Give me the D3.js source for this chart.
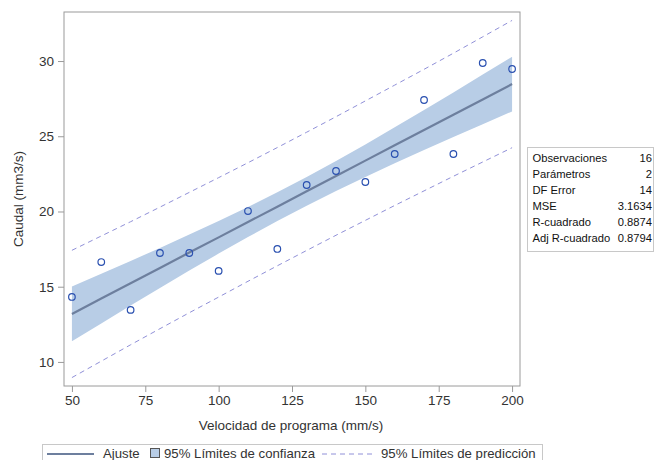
<!DOCTYPE html>
<html><head><meta charset="utf-8">
<script src="https://cdn.jsdelivr.net/npm/d3@7"></script>
<style>body{margin:0;background:#fff;} svg{display:block;font-family:"Liberation Sans",Arial,sans-serif;}</style>
</head><body>
<svg id="c" width="654" height="460"></svg>
<script>
const xVals = [50,60,70,80,90,100,110,120,130,140,150,160,170,180,190,200];
const yObs = [14.32,16.64,13.46,17.24,17.24,16.05,20.03,17.51,21.76,22.69,21.96,23.82,27.41,23.82,29.87,29.47];
const fitVals = [13.19,14.21,15.23,16.25,17.27,18.28,19.30,20.32,21.34,22.36,23.38,24.40,25.41,26.43,27.45,28.47];
const lclm = [11.37,12.56,13.75,14.92,16.07,17.20,18.30,19.36,20.38,21.36,22.30,23.20,24.08,24.95,25.80,26.65];
const uclm = [15.01,15.86,16.71,17.58,18.47,19.36,20.30,21.28,22.30,23.36,24.46,25.60,26.74,27.91,29.10,30.29];
const lcl = [8.96,10.05,11.14,12.21,13.27,14.31,15.36,16.39,17.41,18.42,19.41,20.40,21.37,22.34,23.29,24.24];
const ucl = [17.42,18.37,19.32,20.29,21.27,22.25,23.24,24.25,25.27,26.30,27.35,28.40,29.45,30.52,31.61,32.70];
const xTicks = [50,75,100,125,150,175,200];
const yTicks = [10,15,20,25,30];
const statLabels = ["Observaciones","Parámetros","DF Error","MSE","R-cuadrado","Adj R-cuadrado"];
const statValues = ["16","2","14","3.1634","0.8874","0.8794"];
const legendLabels = ["Ajuste","95% Límites de confianza","95% Límites de predicción"];

const svg = d3.select("#c");
const L=64,R=520,T=12,B=386;
const x = d3.scaleLinear().domain([47.3,202.7]).range([L,R]);
const y = d3.scaleLinear().domain([8.4,33.26]).range([B,T]);
const txt="#333", axisCol="#9a9a9a", fs=13.5, lfs=13.2;

const data = xVals.map((v,i)=>({x:v,y:yObs[i],f:fitVals[i],lm:lclm[i],um:uclm[i],l:lcl[i],u:ucl[i]}));

svg.append("path").datum(data)
  .attr("d", d3.area().x(d=>x(d.x)).y0(d=>y(d.lm)).y1(d=>y(d.um)))
  .attr("fill","#b8cde6");
svg.append("path").datum(data)
  .attr("d", d3.line().x(d=>x(d.x)).y(d=>y(d.f)))
  .attr("fill","none").attr("stroke","#6d7f9e").attr("stroke-width",2.2);
["l","u"].forEach(k=>{
  svg.append("path").datum(data)
    .attr("d", d3.line().x(d=>x(d.x)).y(d=>y(d[k])))
    .attr("fill","none").attr("stroke","#9090d8").attr("stroke-width",1).attr("stroke-dasharray","5,4");
});
svg.selectAll("circle.pt").data(data).enter().append("circle")
  .attr("cx",d=>x(d.x)).attr("cy",d=>y(d.y)).attr("r",3.3)
  .attr("fill","none").attr("stroke","#2a50b0").attr("stroke-width",1.2);

svg.append("rect").attr("x",L).attr("y",T).attr("width",R-L).attr("height",B-T)
  .attr("fill","none").attr("stroke",axisCol).attr("stroke-width",1);

const xa = svg.append("g").attr("transform",`translate(0,${B})`)
  .call(d3.axisBottom(x).tickValues(xTicks).tickSize(6).tickPadding(3).tickSizeOuter(0));
const ya = svg.append("g").attr("transform",`translate(${L},0)`)
  .call(d3.axisLeft(y).tickValues(yTicks).tickSize(6).tickPadding(4).tickSizeOuter(0));
[xa,ya].forEach(g=>{
  g.select(".domain").remove();
  g.selectAll("line").attr("stroke",axisCol);
  g.selectAll("text").attr("fill",txt).attr("font-size",fs).attr("font-family","Liberation Sans, Arial, sans-serif");
});

svg.append("text").attr("x",(L+R)/2 - 1).attr("y",430).attr("text-anchor","middle")
  .attr("font-size",fs).attr("fill",txt).text("Velocidad de programa (mm/s)");
svg.append("text").attr("transform","translate(23,199) rotate(-90)").attr("text-anchor","middle")
  .attr("font-size",fs).attr("fill",txt).text("Caudal (mm3/s)");

const sb = svg.append("g");
sb.append("rect").attr("x",527.5).attr("y",147.5).attr("width",126).attr("height",104)
  .attr("fill","#fff").attr("stroke","#c8c8c8");
statLabels.forEach((s,i)=>{
  sb.append("text").attr("x",532.5).attr("y",162+i*16).attr("font-size",11.2).attr("fill","#111").text(s);
  sb.append("text").attr("x",652).attr("y",162+i*16).attr("font-size",11.2).attr("fill","#111").attr("text-anchor","end").text(statValues[i]);
});

const lg = svg.append("g");
lg.append("rect").attr("x",42.5).attr("y",444.5).attr("width",500).attr("height",20)
  .attr("fill","#fff").attr("stroke","#c8c8c8");
lg.append("line").attr("x1",47).attr("x2",94).attr("y1",454).attr("y2",454).attr("stroke","#6d7f9e").attr("stroke-width",2.2);
lg.append("text").attr("x",103).attr("y",458).attr("font-size",lfs).attr("fill",txt).text(legendLabels[0]);
lg.append("rect").attr("x",150.5).attr("y",448.5).attr("width",9).attr("height",9).attr("fill","#b8cde6").attr("stroke","#555");
lg.append("text").attr("x",164).attr("y",458).attr("font-size",lfs).attr("fill",txt).text(legendLabels[1]);
lg.append("line").attr("x1",322).attr("x2",372).attr("y1",454).attr("y2",454).attr("stroke","#9090d8").attr("stroke-dasharray","5,4");
lg.append("text").attr("x",381).attr("y",458).attr("font-size",lfs).attr("fill",txt).text(legendLabels[2]);
</script>
</body></html>
